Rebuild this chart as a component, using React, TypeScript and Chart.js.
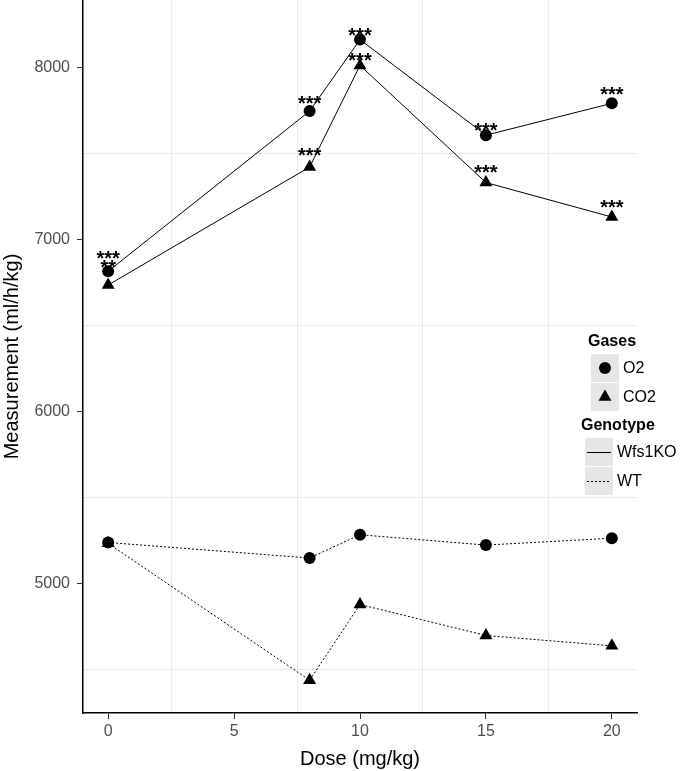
import { useEffect, useRef } from 'react';
import { Chart, registerables } from 'chart.js';
Chart.register(...registerables);

const doses = [0, 8, 10, 15, 20];
const koO2 = [6815, 7745, 8160, 7605, 7790];
const koCO2 = [6735, 7420, 8010, 7330, 7130];
const wtO2 = [5240, 5150, 5285, 5225, 5265];
const wtCO2 = [5235, 4440, 4880, 4700, 4640];
const o2Stars = ['***', '***', '***', '***', '***'];
const co2Stars = ['**', '***', '***', '***', '***'];
const o2StarY = [6919, 7820, 8215, 7663, 7872];
const co2StarY = [6866, 7517, 8070, 7419, 7215];
const xTickValues = [0, 2.5, 5, 7.5, 10, 12.5, 15, 17.5, 20];
const yTickValues = [4500, 5000, 5500, 6000, 6500, 7000, 7500, 8000];
const gasLabels = ['O2', 'CO2'];
const genotypeLabels = ['Wfs1KO', 'WT'];

const FONT = '"Liberation Sans", Arial, sans-serif';

const pts = (ys: number[]) => doses.map((d, i) => ({ x: d, y: ys[i] }));

const starsPlugin = {
  id: 'stars',
  afterDatasetsDraw(chart: any) {
    const { ctx, scales } = chart;
    ctx.save();
    ctx.fillStyle = '#000';
    ctx.font = `bold 20px ${FONT}`;
    ctx.textAlign = 'center';
    ctx.textBaseline = 'alphabetic';
    const draw = (labels: string[], ys: number[]) => {
      labels.forEach((t, i) => {
        const px = scales.x.getPixelForValue(doses[i]);
        const py = scales.y.getPixelForValue(ys[i]);
        ctx.fillText(t, px, py + 0.6 * 20);
      });
    };
    draw(o2Stars, o2StarY);
    draw(co2Stars, co2StarY);
    ctx.restore();
  },
};

const legendPlugin = {
  id: 'customLegend',
  afterDraw(chart: any) {
    const { ctx } = chart;
    ctx.save();
    ctx.textBaseline = 'middle';
    ctx.textAlign = 'left';
    ctx.fillStyle = '#000';
    ctx.font = `bold 16px ${FONT}`;
    ctx.fillText('Gases', 588, 342);
    const gy = [354, 383];
    gasLabels.forEach((lab, i) => {
      ctx.fillStyle = '#e6e6e6';
      ctx.fillRect(591, gy[i], 28, 28);
      ctx.fillStyle = '#000';
      const cx = 605, cy = gy[i] + 14;
      ctx.beginPath();
      if (i === 0) {
        ctx.arc(cx, cy, 6, 0, Math.PI * 2);
      } else {
        const r = 7.5;
        ctx.moveTo(cx, cy - r);
        ctx.lineTo(cx + r * Math.sin(2 * Math.PI / 3), cy + r * 0.5);
        ctx.lineTo(cx - r * Math.sin(2 * Math.PI / 3), cy + r * 0.5);
        ctx.closePath();
      }
      ctx.fill();
      ctx.font = `16px ${FONT}`;
      ctx.fillText(lab, 623, cy + 1);
    });
    ctx.font = `bold 16px ${FONT}`;
    ctx.fillText('Genotype', 581, 426);
    const ky = [438, 467];
    genotypeLabels.forEach((lab, i) => {
      ctx.fillStyle = '#e6e6e6';
      ctx.fillRect(585, ky[i], 28, 28);
      ctx.strokeStyle = '#000';
      ctx.lineWidth = 1;
      ctx.setLineDash(i === 0 ? [] : [2, 2]);
      ctx.beginPath();
      ctx.moveTo(587, ky[i] + 14.5);
      ctx.lineTo(611, ky[i] + 14.5);
      ctx.stroke();
      ctx.setLineDash([]);
      ctx.fillStyle = '#000';
      ctx.font = `16px ${FONT}`;
      ctx.fillText(lab, 617, ky[i] + 15);
    });
    ctx.restore();
  },
};

export default function App() {
  const ref = useRef<HTMLCanvasElement>(null);
  useEffect(() => {
    document.body.style.margin = '0';
    const solid: number[] = [];
    const dotted = [2, 2];
    const mk = (label: string, ys: number[], dash: number[], style: string) => ({
      label,
      data: pts(ys),
      borderColor: '#000',
      backgroundColor: '#000',
      borderWidth: 1,
      borderDash: dash,
      pointStyle: style,
      pointRadius: style === 'triangle' ? 7.5 : 6,
      pointHoverRadius: style === 'triangle' ? 7.5 : 6,
      pointBorderWidth: 0,
      pointBackgroundColor: '#000',
      showLine: true,
      tension: 0,
      clip: false,
    });
    const majorX = (v: number) => Math.abs(v % 5) < 1e-9;
    const majorY = (v: number) => Math.abs(v % 1000) < 1e-9;
    const chart = new Chart(ref.current!, {
      type: 'scatter',
      data: {
        datasets: [
          mk('Wfs1KO O2', koO2, solid, 'circle'),
          mk('Wfs1KO CO2', koCO2, solid, 'triangle'),
          mk('WT O2', wtO2, dotted, 'circle'),
          mk('WT CO2', wtCO2, dotted, 'triangle'),
        ],
      },
      options: {
        animation: false,
        responsive: true,
        maintainAspectRatio: false,
        layout: { autoPadding: false, padding: { left: 0, right: 45, top: 0, bottom: 0 } },
        plugins: { legend: { display: false }, tooltip: { enabled: false } },
        scales: {
          x: {
            type: 'linear',
            min: -1,
            max: 21,
            afterBuildTicks: (s: any) => {
              s.ticks = xTickValues.map((v) => ({ value: v }));
            },
            afterFit: (s: any) => {
              s.height = 58;
              s.paddingLeft = 0;
              s.paddingRight = 0;
            },
            ticks: {
              autoSkip: false,
              maxRotation: 0,
              padding: 3,
              color: '#4d4d4d',
              font: { family: FONT, size: 16 },
              callback: (v: any) => (majorX(Number(v)) ? String(v) : ''),
            },
            grid: {
              color: (c: any) => (majorX(c.tick.value) ? 'rgba(0,0,0,0)' : '#ebebeb'),
              tickColor: (c: any) => (majorX(c.tick.value) ? '#333' : 'rgba(0,0,0,0)'),
              tickLength: 6,
              lineWidth: 1,
            },
            border: { display: true, color: '#000', width: 1.5 },
            title: {
              display: true,
              text: 'Dose (mg/kg)',
              color: '#000',
              font: { family: FONT, size: 20 },
              padding: 0,
            },
          },
          y: {
            type: 'linear',
            min: 4250,
            max: 8390,
            afterBuildTicks: (s: any) => {
              s.ticks = yTickValues.map((v) => ({ value: v }));
            },
            afterFit: (s: any) => {
              s.width = 83;
              s.paddingTop = 0;
              s.paddingBottom = 0;
            },
            ticks: {
              autoSkip: false,
              padding: 7,
              color: '#4d4d4d',
              font: { family: FONT, size: 16 },
              callback: (v: any) => (majorY(Number(v)) ? String(v) : ''),
            },
            grid: {
              color: (c: any) => (majorY(c.tick.value) ? 'rgba(0,0,0,0)' : '#ebebeb'),
              tickColor: (c: any) => (majorY(c.tick.value) ? '#333' : 'rgba(0,0,0,0)'),
              tickLength: 6,
              lineWidth: 1,
            },
            border: { display: true, color: '#000', width: 1.5 },
            title: {
              display: true,
              text: 'Measurement (ml/h/kg)',
              color: '#000',
              font: { family: FONT, size: 20 },
              padding: { top: 0, bottom: 0 },
            },
          },
        },
      },
      plugins: [starsPlugin, legendPlugin],
    });
    return () => chart.destroy();
  }, []);
  return (
    <div style={{ width: 682, height: 771, position: 'relative' }}>
      <canvas ref={ref} />
    </div>
  );
}
